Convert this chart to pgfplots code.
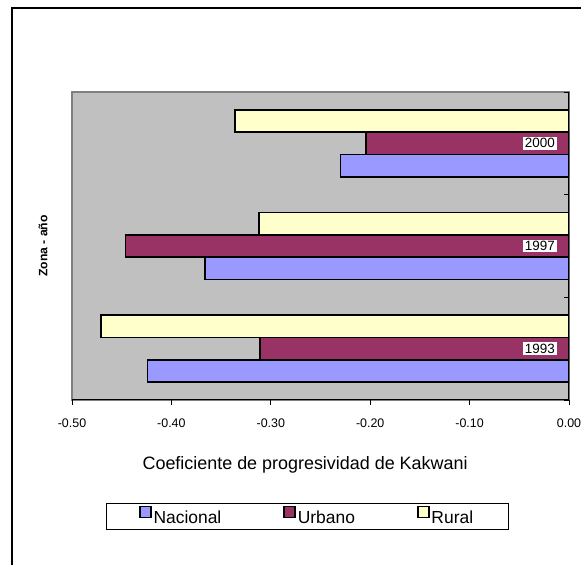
\documentclass[border=0pt]{standalone}
\usepackage{fontspec}
\setmainfont{Liberation Sans}
\usepackage{pgfplots}
\pgfplotsset{compat=1.18}
\definecolor{nac}{HTML}{9999FF}
\definecolor{urb}{HTML}{993366}
\definecolor{rur}{HTML}{FFFFCC}
\definecolor{bgc}{HTML}{C0C0C0}
\definecolor{bdc}{HTML}{808080}
\begin{document}
\begin{tikzpicture}
\useasboundingbox (0,0) rectangle (581bp,565bp);
\fill[white] (0,0) rectangle (581bp,565bp);
\draw[line width=1.5bp] (12bp,-10bp) -- (12bp,557bp) -- (600bp,557bp);
\begin{axis}[
  at={(72bp,165bp)}, anchor=south west,
  scale only axis, width=497bp, height=308bp,
  xbar, bar width=22.3bp,
  xmin=-0.5, xmax=0, ymin=-0.5, ymax=2.5,
  axis background/.style={fill=bgc, draw=bdc, line width=1.5bp},
  axis line style={draw=none},
  axis on top,
  tick align=outside,
  major tick length=5bp,
  tick style={black, line width=1bp},
  xtick={-0.5,-0.4,-0.3,-0.2,-0.1,0},
  xtick pos=bottom,
  ytick={-0.5,0.5,1.5,2.5},
  yticklabels={,,,},
  ytick pos=right,
  every major y tick/.append style={xshift=-5bp},
  /pgf/number format/.cd, fixed, fixed zerofill, precision=2, assume math mode=true,
  /pgfplots/.cd,
  xticklabel style={font=\fontsize{12.5}{14}\selectfont, anchor=center, yshift=-18bp},
  extra y ticks={0,1,2},
  extra y tick labels={1993,1997,2000},
  extra y tick style={major tick length=0pt,
    yticklabel style={anchor=east, xshift=-12bp, fill=white, draw=none, inner xsep=2bp, inner ysep=1.5bp,
      font=\fontsize{13.5}{15}\selectfont}},
  xlabel={Coeficiente de progresividad de Kakwani},
  xlabel style={font=\fontsize{18}{21}\selectfont, at={(axis description cs:0.469,-0.211)}, anchor=center},
  ylabel={Zona - año},
  ylabel style={font=\bfseries\fontsize{12.2}{14}\selectfont, at={(axis description cs:-0.058,0.5)}, anchor=center},
  legend columns=3,
  legend style={at={(axis description cs:0.473,-0.378)}, anchor=center, draw=black, line width=1bp,
    font=\fontsize{17.5}{20}\selectfont, inner xsep=33bp, inner ysep=2bp,
    /tikz/every even column/.append style={column sep=60bp}},
  legend image code/.code={\draw[#1, draw=black, line width=1.5bp] (0bp,1bp) rectangle (11bp,12bp);},
]
\addplot[fill=nac, draw=black, line width=1.5bp, bar shift=-22.3bp] coordinates {(-0.424,0) (-0.366,1) (-0.230,2)};
\addplot[fill=urb, draw=black, line width=1.5bp, bar shift=0bp] coordinates {(-0.311,0) (-0.446,1) (-0.204,2)};
\addplot[fill=rur, draw=black, line width=1.5bp, bar shift=22.3bp] coordinates {(-0.471,0) (-0.312,1) (-0.336,2)};
\legend{Nacional,Urbano,Rural}
\draw[black, line width=1.5bp] (axis cs:-0.5,-0.5) -- (axis cs:0,-0.5) -- (axis cs:0,2.5);
\end{axis}
\end{tikzpicture}
\end{document}
